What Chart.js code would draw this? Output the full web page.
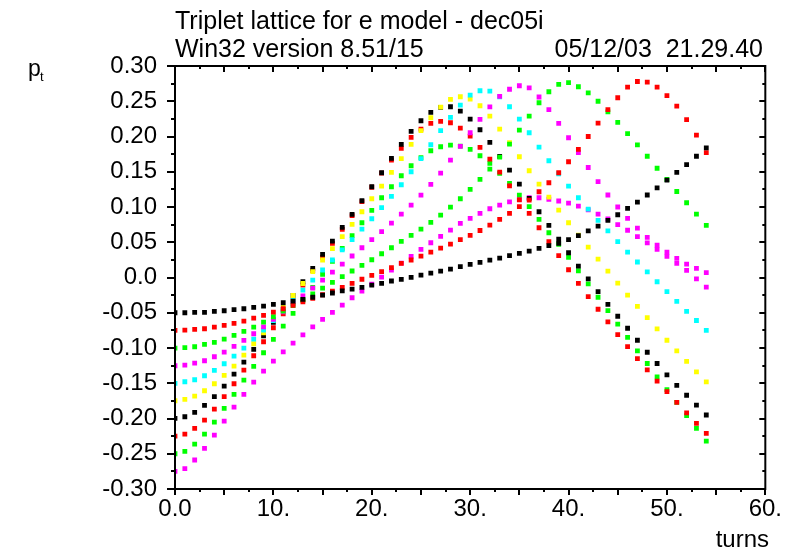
<!DOCTYPE html>
<html>
<head>
<meta charset="utf-8">
<title>Triplet lattice for e model - dec05i</title>
<script src="https://cdn.jsdelivr.net/npm/chart.js@4.4.1/dist/chart.umd.min.js"></script>
<style>
  html, body { margin: 0; padding: 0; background: #fff; }
  #wrap { width: 788px; height: 558px; }
</style>
</head>
<body>
<div id="wrap"><canvas id="canvas" width="788" height="558"></canvas></div>
<script>
const titleLine1 = 'Triplet lattice for e model - dec05i'
const titleLine2 = 'Win32 version 8.51/15'
const stamp = '05/12/03  21.29.40'
const xTitle = 'turns'

const turns = [0, 1, 2, 3, 4, 5, 6, 7, 8, 9, 10, 11, 12, 13, 14, 15, 16, 17, 18, 19,
    20, 21, 22, 23, 24, 25, 26, 27, 28, 29, 30, 31, 32, 33, 34, 35, 36, 37, 38, 39,
    40, 41, 42, 43, 44, 45, 46, 47, 48, 49, 50, 51, 52, 53, 54]

// p_t per turn, one array per tracked particle
const black1 = [-0.050, -0.050, -0.0495, -0.0495, -0.0481, -0.0472, -0.0457, -0.0443, -0.0424, -0.0405,
    -0.0382, -0.0358, -0.0334, -0.031, -0.028, -0.025, -0.022, -0.019, -0.0165, -0.014,
    -0.0107, -0.0083, -0.005, -0.0027, 0.0002, 0.0035, 0.0063, 0.0091, 0.012, 0.0153,
    0.0186, 0.0214, 0.0247, 0.0276, 0.0309, 0.0342, 0.0375, 0.0413, 0.0451, 0.0484,
    0.0536, 0.0593, 0.066, 0.073, 0.081, 0.089, 0.098, 0.107, 0.117, 0.127,
    0.138, 0.149, 0.160, 0.172, 0.184]
const red1 = [-0.0751, -0.0746, -0.0736, -0.0727, -0.0703, -0.0680, -0.0651, -0.0618, -0.0576, -0.0538,
    -0.0491, -0.0443, -0.0395, -0.0346, -0.0296, -0.0245, -0.0193, -0.0140, -0.0082, -0.0025,
    0.0030, 0.0082, 0.0139, 0.0200, 0.0248, 0.0304, 0.0361, 0.0418, 0.0474, 0.0536,
    0.0597, 0.0667, 0.0744, 0.0824, 0.0909, 0.1004, 0.1098, 0.1216, 0.1344, 0.1486,
    0.1642, 0.1817, 0.200, 0.219, 0.238, 0.255, 0.270, 0.278, 0.277, 0.270,
    0.258, 0.243, 0.224, 0.202, 0.177]
const green1 = [-0.1001, -0.0996, -0.0982, -0.0949, -0.0921, -0.0874, -0.0822, -0.0765, -0.0703, -0.0632,
    -0.0557, -0.0478, -0.0397, -0.0315, -0.0232, -0.0150, -0.0069, 0.0012, 0.0092, 0.0172,
    0.0252, 0.0337, 0.0422, 0.0512, 0.0597, 0.0687, 0.0781, 0.0885, 0.0999, 0.1117,
    0.1249, 0.1391, 0.1538, 0.1708, 0.1893, 0.2091, 0.2290, 0.2479, 0.2635, 0.2739,
    0.2763, 0.2706, 0.262, 0.250, 0.235, 0.220, 0.204, 0.188, 0.172, 0.155,
    0.139, 0.122, 0.106, 0.090, 0.074]
const magenta1 = [-0.1252, -0.1242, -0.1214, -0.1181, -0.1124, -0.1058, -0.0978, -0.0892, -0.0798, -0.0699,
    -0.0595, -0.0487, -0.0375, -0.0262, -0.0150, -0.0038, 0.0075, 0.0189, 0.0305, 0.0422,
    0.0536, 0.0650, 0.0772, 0.0900, 0.1027, 0.1169, 0.1320, 0.1481, 0.1666, 0.1860,
    0.2053, 0.2242, 0.2420, 0.2570, 0.2670, 0.2720, 0.2690, 0.2560, 0.2380, 0.2186,
    0.1982, 0.177, 0.156, 0.136, 0.117, 0.100, 0.084, 0.070, 0.057, 0.046,
    0.036, 0.027, 0.019, 0.013, 0.007]
const cyan = [-0.1502, -0.1479, -0.1450, -0.1394, -0.1318, -0.1223, -0.1115, -0.1001, -0.0874, -0.0746,
    -0.0613, -0.0470, -0.0325, -0.0178, -0.0036, 0.0106, 0.0248, 0.0392, 0.0538, 0.0687,
    0.0833, 0.0990, 0.1150, 0.1316, 0.1500, 0.1685, 0.1883, 0.2082, 0.2271, 0.2446,
    0.2588, 0.2649, 0.2644, 0.2564, 0.2422, 0.2247, 0.2053, 0.1850, 0.1656, 0.1472,
    0.1297, 0.1131, 0.097, 0.081, 0.066, 0.051, 0.036, 0.022, 0.008, -0.006,
    -0.020, -0.034, -0.048, -0.061, -0.075]
const yellow = [-0.1748, -0.1729, -0.1682, -0.1606, -0.1507, -0.1389, -0.1257, -0.1100, -0.0940, -0.0784,
    -0.0600, -0.0425, -0.0255, -0.0085, 0.0082, 0.0248, 0.0410, 0.0579, 0.0754, 0.0933,
    0.1117, 0.1297, 0.1491, 0.1685, 0.1888, 0.2082, 0.2266, 0.2417, 0.2526, 0.2564,
    0.2531, 0.2436, 0.2290, 0.2105, 0.1911, 0.1713, 0.1514, 0.1325, 0.1141, 0.0956,
    0.0777, 0.0602, 0.043, 0.026, 0.009, -0.008, -0.025, -0.041, -0.057, -0.073,
    -0.089, -0.104, -0.119, -0.134, -0.148]
const black2 = [-0.1999, -0.1975, -0.1914, -0.1814, -0.1691, -0.1540, -0.1370, -0.1200, -0.1020, -0.0826,
    -0.0637, -0.0453, -0.0254, -0.0060, 0.0130, 0.0328, 0.0517, 0.0711, 0.0895, 0.1089,
    0.1287, 0.1486, 0.1690, 0.1888, 0.2072, 0.2223, 0.2342, 0.2413, 0.2422, 0.2360,
    0.2247, 0.2096, 0.1916, 0.1718, 0.1524, 0.1325, 0.1122, 0.0933, 0.0739, 0.0545,
    0.0351, 0.0162, -0.002, -0.020, -0.038, -0.055, -0.072, -0.089, -0.106, -0.122,
    -0.138, -0.153, -0.167, -0.181, -0.195]
const red2 = [-0.2249, -0.2221, -0.2141, -0.2022, -0.1866, -0.1691, -0.1507, -0.1313, -0.1110, -0.0911,
    -0.0713, -0.0514, -0.0320, -0.0107, 0.0097, 0.0286, 0.0484, 0.0683, 0.0877, 0.1075,
    0.1280, 0.1480, 0.1666, 0.1831, 0.1987, 0.2105, 0.2186, 0.2214, 0.2195, 0.2119,
    0.2006, 0.1845, 0.1680, 0.1495, 0.1301, 0.1100, 0.0910, 0.0706, 0.0507, 0.0309,
    0.0110, -0.0084, -0.027, -0.045, -0.063, -0.081, -0.098, -0.115, -0.131, -0.147,
    -0.162, -0.177, -0.192, -0.207, -0.221]
const green2 = [-0.2500, -0.2467, -0.2363, -0.2221, -0.2051, -0.1857, -0.1658, -0.1455, -0.1261, -0.1067,
    -0.0878, -0.0689, -0.0509, -0.0325, -0.0140, 0.0045, 0.0230, 0.0412, 0.0595, 0.0777,
    0.0952, 0.1131, 0.1287, 0.1443, 0.1585, 0.1699, 0.1798, 0.1855, 0.1878, 0.1864,
    0.1817, 0.1727, 0.1618, 0.1476, 0.1335, 0.1169, 0.1004, 0.0824, 0.0635, 0.0469,
    0.0285, 0.0096, -0.009, -0.028, -0.047, -0.066, -0.085, -0.104, -0.122, -0.141,
    -0.159, -0.177, -0.196, -0.214, -0.232]
const magenta2 = [-0.2750, -0.2710, -0.2589, -0.2424, -0.2236, -0.2037, -0.1839, -0.1659, -0.1484, -0.1328,
    -0.1186, -0.1054, -0.0931, -0.0813, -0.0699, -0.0595, -0.0496, -0.0391, -0.0287, -0.0193,
    -0.0093, 0.0006, 0.0105, 0.0205, 0.0299, 0.0398, 0.0493, 0.0583, 0.0673, 0.0767,
    0.0838, 0.0909, 0.0975, 0.1027, 0.1074, 0.1107, 0.1131, 0.1131, 0.1110, 0.1085,
    0.1055, 0.1013, 0.096, 0.090, 0.083, 0.075, 0.067, 0.058, 0.049, 0.040,
    0.030, 0.020, 0.010, -0.002, -0.0136]

const series = [
    { name: 'p1', values: black1, color: '#000000' },
    { name: 'p2', values: red1, color: '#ff0000' },
    { name: 'p3', values: green1, color: '#00ff00' },
    { name: 'p4', values: magenta1, color: '#ff00ff' },
    { name: 'p5', values: cyan, color: '#00ffff' },
    { name: 'p6', values: yellow, color: '#ffff00' },
    { name: 'p7', values: black2, color: '#000000' },
    { name: 'p8', values: red2, color: '#ff0000' },
    { name: 'p9', values: green2, color: '#00ff00' },
    { name: 'p10', values: magenta2, color: '#ff00ff' },
]

const FONT = "'Liberation Sans', Arial, sans-serif"

// frame, inward/outward ticks and the free texts
const framePlugin = {
    id: 'frame',
    afterDraw(chart) {
        const ctx = chart.ctx
        const area = chart.chartArea
        const xs = chart.scales.x
        const ys = chart.scales.y
        ctx.save()
        ctx.strokeStyle = '#000'
        ctx.lineWidth = 2
        ctx.strokeRect(area.left, area.top, area.right - area.left, area.bottom - area.top)

        ctx.beginPath()
        for (let k = 0; k <= 24; k++) {
            const px = Math.round(xs.getPixelForValue(k * 2.5))
            const len = k % 2 === 0 ? 6 : 3
            ctx.moveTo(px, area.bottom)
            ctx.lineTo(px, area.bottom + len)
            ctx.moveTo(px, area.top)
            ctx.lineTo(px, area.top + len)
        }
        for (let k = -12; k <= 12; k++) {
            const py = Math.round(ys.getPixelForValue(k * 0.025))
            const len = k % 2 === 0 ? 8 : 4
            ctx.moveTo(area.left, py)
            ctx.lineTo(area.left - len, py)
            ctx.moveTo(area.right, py)
            ctx.lineTo(area.right - (k % 2 === 0 ? 6 : 3), py)
        }
        ctx.stroke()

        ctx.fillStyle = '#000'
        ctx.textBaseline = 'alphabetic'
        ctx.font = `25px ${FONT}`
        ctx.textAlign = 'left'
        ctx.fillText(titleLine1, 175, 29)
        ctx.fillText(titleLine2, 175, 57)
        ctx.textAlign = 'right'
        ctx.fillText(stamp, 763, 57)

        ctx.font = `24px ${FONT}`
        ctx.fillText(xTitle, 769, 547)

        ctx.textAlign = 'left'
        ctx.font = `23px ${FONT}`
        ctx.fillText('p', 28, 76)
        ctx.font = `13px ${FONT}`
        ctx.fillText('t', 40, 81)
        ctx.restore()
    }
}

const canvas = document.getElementById('canvas')

new Chart(canvas, {
    type: 'scatter',
    data: {
        datasets: series.map(s => ({
            label: s.name,
            data: turns.map((t, i) => ({ x: t, y: s.values[i] })),
            backgroundColor: s.color,
            borderColor: s.color,
            borderWidth: 0,
            pointStyle: 'rect',
            pointRadius: 3.4,
            showLine: false
        }))
    },
    options: {
        responsive: false,
        devicePixelRatio: 1,
        animation: false,
        layout: { padding: { top: 66, right: 21, left: 0, bottom: 0 } },
        plugins: {
            legend: { display: false },
            tooltip: { enabled: false },
            title: { display: false }
        },
        scales: {
            x: {
                type: 'linear',
                position: 'bottom',
                min: 0,
                max: 60,
                afterFit: (scale) => { scale.height = 69 },
                grid: { display: false, drawTicks: false },
                border: { display: false },
                ticks: {
                    stepSize: 10,
                    autoSkip: false,
                    maxRotation: 0,
                    padding: 6,
                    color: '#000',
                    font: { family: FONT, size: 24 },
                    callback: (v) => v === 0 ? '0.0' : v + '.'
                }
            },
            y: {
                type: 'linear',
                min: -0.30,
                max: 0.30,
                afterFit: (scale) => { scale.width = 175 },
                grid: { display: false, drawTicks: false },
                border: { display: false },
                ticks: {
                    stepSize: 0.05,
                    autoSkip: false,
                    padding: 18,
                    color: '#000',
                    font: { family: FONT, size: 24 },
                    callback: (v) => Math.abs(v) < 1e-9 ? '0.0' : v.toFixed(2)
                }
            }
        }
    },
    plugins: [framePlugin]
})
</script>
</body>
</html>
